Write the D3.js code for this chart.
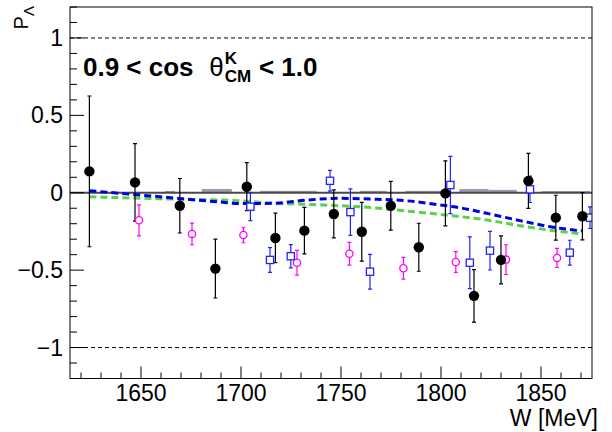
<!DOCTYPE html>
<html><head><meta charset="utf-8">
<script src="https://cdn.jsdelivr.net/npm/d3@7"></script>
<style>body{margin:0;background:#fff}svg{display:block}text{font-family:"Liberation Sans",Arial,Helvetica,sans-serif}</style>
</head><body><svg id="c" width="612" height="432"></svg>
<script>
// ---- data ----
const blackW = [1624.2,1647,1669.4,1687.2,1702.9,1717.2,1731.7,1746.4,1760.4,1774.9,1788.9,1802.2,1816.5,1830,1843.7,1857.4,1870.7];
const blackP = [0.138,0.067,-0.084,-0.49,0.039,-0.292,-0.245,-0.137,-0.252,-0.084,-0.352,-0.004,-0.666,-0.434,0.077,-0.161,-0.152];
const blackE = [0.487,0.25,0.176,0.19,0.155,0.16,0.15,0.155,0.19,0.158,0.155,0.21,0.17,0.155,0.178,0.145,0.153];

const magW = [1649,1675.5,1701.2,1728,1754.2,1781.2,1807.4,1832.5,1858];
const magP = [-0.178,-0.266,-0.273,-0.452,-0.394,-0.488,-0.447,-0.432,-0.421];
const magE = [0.1,0.07,0.05,0.08,0.073,0.07,0.067,0.096,0.062];

const sqW = [1704.7,1714.5,1724.9,1744.5,1754.7,1764.5,1804.7,1814.4,1824.5,1844.5,1864.4,1874.5];
const sqP = [-0.09,-0.434,-0.41,0.077,-0.125,-0.51,0.05,-0.452,-0.374,0.022,-0.387,-0.161];
const sqE = [0.09,0.08,0.075,0.067,0.15,0.112,0.185,0.167,0.125,0.085,0.08,0.07];

const blueCurveW = [1624.2,1659.5,1689.5,1699.5,1716.2,1732.9,1749.5,1766.2,1782.9,1799.5,1806.2,1822.9,1839.5,1856.2,1870.7];
const blueCurveP = [0.013,-0.026,-0.06,-0.07,-0.068,-0.047,-0.036,-0.041,-0.052,-0.079,-0.09,-0.133,-0.18,-0.223,-0.247];

const greenCurveW = [1624.2,1659.5,1699.5,1716.2,1732.9,1749.5,1766.2,1782.9,1799.5,1822.9,1839.5,1856.2,1870.7];
const greenCurveP = [-0.026,-0.039,-0.052,-0.068,-0.075,-0.084,-0.097,-0.118,-0.14,-0.176,-0.213,-0.245,-0.266];

const sysLo = [1662,1680.4,1709.5,1759.5,1782,1809.2,1823.7,1850.4];
const sysHi = [1667,1695.4,1737.9,1772.9,1801.2,1823.7,1837.9,1874.5];
const sysV  = [0.005,0.018,0.006,0.006,0.006,0.018,0.012,0.004];

const xTicks = [1650,1700,1750,1800,1850];
const yTicks = [-1,-0.5,0,0.5,1];
const yTickLabels = ["\u22121","\u22120.5","0","0.5","1"];

// ---- scales ----
const L=70, R=592, T=7, B=378.5;
const x = d3.scaleLinear().domain([1614.5,1875.5]).range([L,R]);
const y = d3.scaleLinear().domain([-1.2,1.2]).range([B,T]);
const svg = d3.select("#c");

svg.append("defs").append("clipPath").attr("id","pc")
  .append("rect").attr("x",L).attr("y",T).attr("width",R-L).attr("height",B-T);
const g = svg.append("g").attr("clip-path","url(#pc)");

// dashed ±1 lines
[1,-1].forEach(v=>g.append("line").attr("x1",L).attr("x2",R).attr("y1",y(v)).attr("y2",y(v))
  .attr("stroke","#000").attr("stroke-width",1).attr("stroke-dasharray","4,3"));

// systematic bars
g.selectAll("rect.sys").data(sysLo).join("rect").attr("class","sys")
  .attr("x",(d)=>x(d)).attr("width",(d,i)=>x(sysHi[i])-x(d))
  .attr("y",(d,i)=>y(sysV[i])-1).attr("height",(d,i)=>y(0)-y(sysV[i])+1)
  .attr("fill","#9c9cb0");

// zero line
g.append("line").attr("x1",L).attr("x2",R).attr("y1",y(0)).attr("y2",y(0))
  .attr("stroke","#4a4a4a").attr("stroke-width",2);

// curves
const line = (W,P)=>d3.line().curve(d3.curveMonotoneX).x((d,i)=>x(W[i])).y((d,i)=>y(P[i]))(W);
g.append("path").attr("d",line(greenCurveW,greenCurveP)).attr("fill","none")
  .attr("stroke","#5ccf4c").attr("stroke-width",3).attr("stroke-dasharray","7,4");
g.append("path").attr("d",line(blueCurveW,blueCurveP)).attr("fill","none")
  .attr("stroke","#0000e6").attr("stroke-width",3).attr("stroke-dasharray","7,4");

function errbars(W,P,E,color,cap){
  const gg=g.append("g").attr("stroke",color).attr("stroke-width",1.2);
  W.forEach((w,i)=>{
    const xx=x(w);
    gg.append("line").attr("x1",xx).attr("x2",xx).attr("y1",y(P[i]+E[i])).attr("y2",y(P[i]-E[i]));
    gg.append("line").attr("x1",xx-cap).attr("x2",xx+cap).attr("y1",y(P[i]+E[i])).attr("y2",y(P[i]+E[i]));
    gg.append("line").attr("x1",xx-cap).attr("x2",xx+cap).attr("y1",y(P[i]-E[i])).attr("y2",y(P[i]-E[i]));
  });
}
errbars(magW,magP,magE,"#ff00ff",2);
errbars(sqW,sqP,sqE,"#2222ff",2);
errbars(blackW,blackP,blackE,"#000",2);

// markers
g.selectAll("circle.mag").data(magW).join("circle").attr("class","mag")
  .attr("cx",d=>x(d)).attr("cy",(d,i)=>y(magP[i])).attr("r",3.6)
  .attr("fill","#fff").attr("stroke","#ff00ff").attr("stroke-width",1.3);
g.selectAll("rect.sq").data(sqW).join("rect").attr("class","sq")
  .attr("x",d=>x(d)-3.6).attr("y",(d,i)=>y(sqP[i])-3.6).attr("width",7.2).attr("height",7.2)
  .attr("fill","#fff").attr("stroke","#2222ff").attr("stroke-width",1.3);
g.selectAll("circle.blk").data(blackW).join("circle").attr("class","blk")
  .attr("cx",d=>x(d)).attr("cy",(d,i)=>y(blackP[i])).attr("r",5.2).attr("fill","#000");

// frame
svg.append("rect").attr("x",L).attr("y",T).attr("width",R-L).attr("height",B-T)
  .attr("fill","none").attr("stroke","#000").attr("stroke-width",1);

// axes ticks (inside)
const ax = svg.append("g").attr("stroke","#000").attr("stroke-width",1);
d3.range(1620,1876,10).forEach(v=>{
  const major = v%50===0;
  ax.append("line").attr("x1",x(v)).attr("x2",x(v)).attr("y1",B).attr("y2",B-(major?12:6));
});
d3.range(-12,13,1).forEach(k=>{
  const v=k/10, major = k%5===0;
  ax.append("line").attr("x1",L).attr("x2",L+(major?14:7)).attr("y1",y(v)).attr("y2",y(v));
});
svg.selectAll("text.xt").data(xTicks).join("text").attr("class","xt")
  .attr("x",d=>x(d)).attr("y",401).attr("text-anchor","middle").attr("font-size",23).text(d=>d);
svg.selectAll("text.yt").data(yTicks).join("text").attr("class","yt")
  .attr("x",63).attr("y",d=>y(d)+8).attr("text-anchor","end").attr("font-size",23).text((d,i)=>yTickLabels[i]);

// axis titles
svg.append("text").attr("x",598).attr("y",426).attr("text-anchor","end").attr("font-size",23).text("W [MeV]");
const yt = svg.append("text").attr("transform","translate(28,6) rotate(-90)").attr("text-anchor","end").attr("font-size",20);
yt.append("tspan").text("P");
yt.append("tspan").attr("dy",6).attr("font-size",15).text("\u039B");

// label
const lx=83, ly=76, fs=26;
const t1=svg.append("text").attr("x",lx).attr("y",ly).attr("font-size",fs).attr("font-weight","bold").text("0.9 < cos");
let cx = lx + t1.node().getComputedTextLength() + 0.6*fs;
const t2=svg.append("text").attr("x",cx).attr("y",ly).attr("font-size",fs).text("\u03B8");
cx += t2.node().getComputedTextLength()+1;
const tK=svg.append("text").attr("x",cx).attr("y",ly-12).attr("font-size",17).attr("font-weight","bold").text("K");
const tC=svg.append("text").attr("x",cx).attr("y",ly+6).attr("font-size",17).attr("font-weight","bold").text("CM");
cx += Math.max(tK.node().getComputedTextLength(),tC.node().getComputedTextLength()) + 0.3*fs;
svg.append("text").attr("x",cx).attr("y",ly).attr("font-size",fs).attr("font-weight","bold").text("< 1.0");
</script></body></html>
